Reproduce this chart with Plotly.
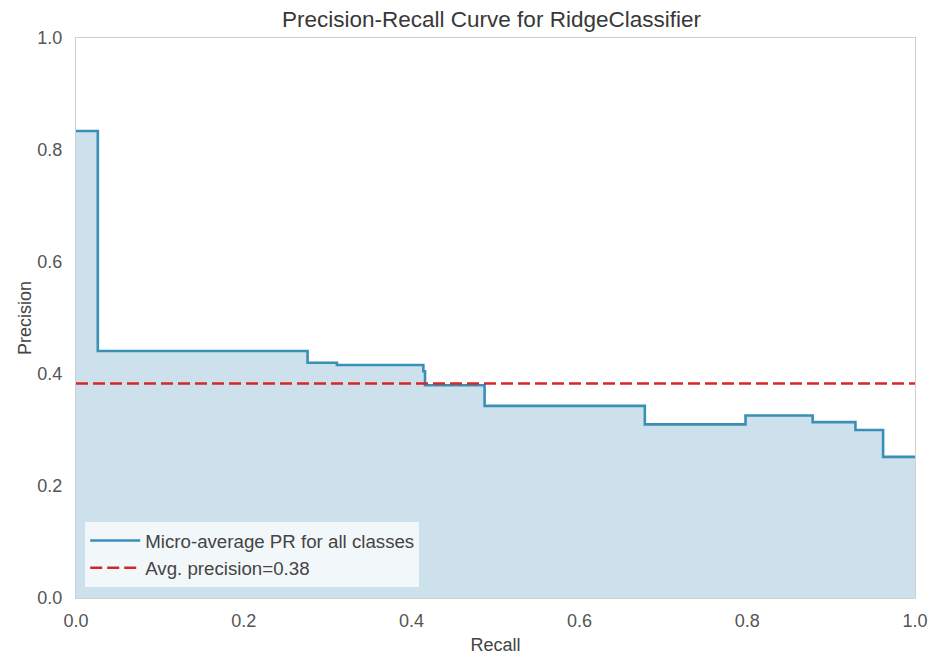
import plotly.graph_objects as go

# Step points of the micro-average PR curve (recall, precision), drawn with 'hv' steps
recall = [0.0, 0.026, 0.276, 0.311, 0.414, 0.416, 0.487, 0.678, 0.798, 0.878, 0.929, 0.962, 1.0]
precision = [0.834, 0.441, 0.420, 0.416, 0.405, 0.380, 0.343, 0.310, 0.326, 0.314, 0.300, 0.252, 0.252]
avg_precision = 0.383

x_ticks = [0.0, 0.2, 0.4, 0.6, 0.8, 1.0]
y_ticks = [0.0, 0.2, 0.4, 0.6, 0.8, 1.0]

FONT = "Liberation Sans, Arial, sans-serif"
W, H = 929, 657

fig = go.Figure()
# filled area under the curve (no legend entry)
fig.add_trace(go.Scatter(
    x=recall, y=precision, mode="lines", line_shape="hv",
    line=dict(color="rgba(0,0,0,0)", width=0),
    fill="tozeroy", fillcolor="#cce1ec",
    showlegend=False, hoverinfo="skip",
))
fig.add_trace(go.Scatter(
    x=recall, y=precision, mode="lines", line_shape="hv",
    line=dict(color="#3a8fb7", width=2.6),
    name="Micro-average PR for all classes",
))
fig.add_trace(go.Scatter(
    x=[0.0, 1.0], y=[avg_precision, avg_precision], mode="lines",
    line=dict(color="#d62728", width=2.6, dash="12px,5px"),
    name=f"Avg. precision={avg_precision:.2f}",
))

axis_common = dict(
    showgrid=False, zeroline=False, showline=True, mirror=True,
    linecolor="#d0d0d0", linewidth=1.2,
    ticks="outside", tickcolor="rgba(0,0,0,0)",
    tickfont=dict(family=FONT, size=18, color="#555555"),
    tickformat=".1f", automargin=False,
)

fig.update_layout(
    width=W, height=H,
    margin=dict(l=76, r=14, t=38, b=59),
    paper_bgcolor="white", plot_bgcolor="white",
    font=dict(family=FONT, color="#444444"),
    title=dict(text="Precision-Recall Curve for RidgeClassifier",
               x=491.5 / W, xanchor="center", y=1 - 19 / H, yanchor="middle",
               yref="container",
               font=dict(family=FONT, size=22.5, color="#383838")),
    xaxis=dict(range=[0, 1], tickvals=x_ticks, ticklen=6,
               title=dict(text="Recall", font=dict(family=FONT, size=18, color="#444444"), standoff=8),
               **axis_common),
    yaxis=dict(range=[0, 1], tickvals=y_ticks, ticklen=9,
               title=dict(text="Precision", font=dict(family=FONT, size=18, color="#444444"), standoff=0),
               **axis_common),
    legend=dict(x=0.011, y=0.02, xanchor="left", yanchor="bottom",
                bgcolor="rgba(255,255,255,0.75)", borderwidth=0,
                font=dict(family=FONT, size=18.7, color="#444444"),
                tracegroupgap=0, itemwidth=50),
    showlegend=True,
)

fig.write_html("out.html", config={"displayModeBar": False},
               post_script="document.body.style.margin='0';")
